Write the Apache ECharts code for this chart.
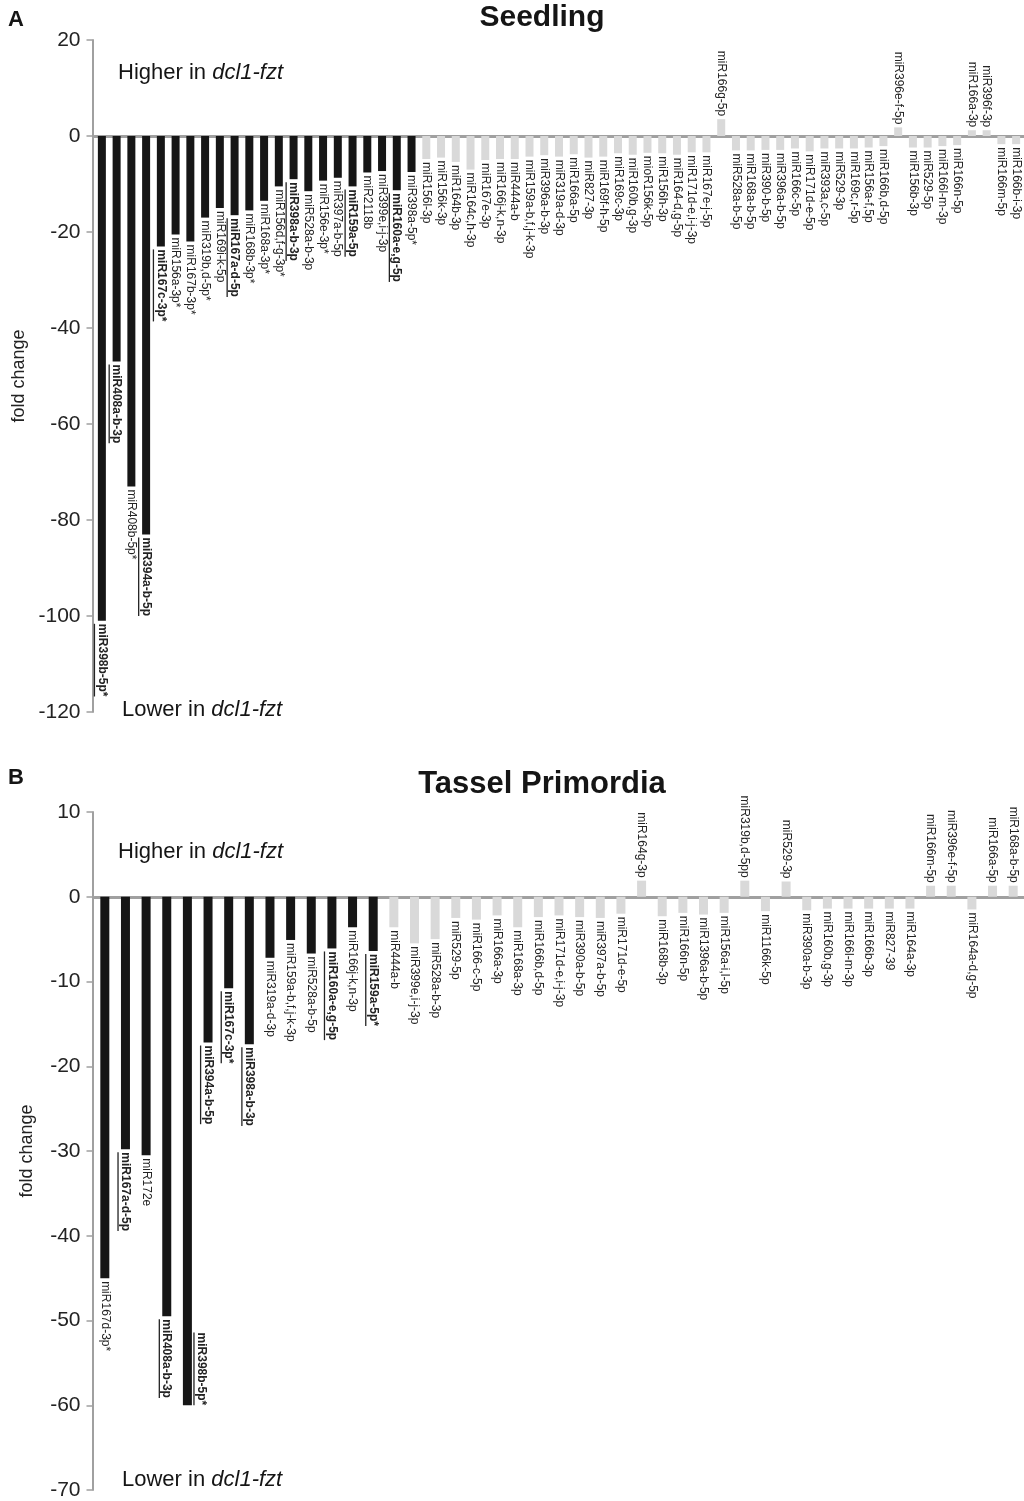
<!DOCTYPE html>
<html><head><meta charset="utf-8">
<script src="https://cdn.jsdelivr.net/npm/echarts@6/dist/echarts.min.js"></script>
<style>html,body{margin:0;padding:0;background:#fff}#c{width:1024px;height:1501px}</style>
</head><body><div id="c"></div>
<script>
// ---------- Panel A : Seedling ----------
const namesA = ['miR398b-5p*','miR408a-b-3p','miR408b-5p*','miR394a-b-5p','miR167c-3p*','miR156a-3p*','miR167b-3p*','miR319b,d-5p*','miR169i-k-5p','miR167a-d-5p','miR168b-3p*','miR168a-3p*','miR156d,f-g-3p*','miR398a-b-3p','miR528a-b-3p','miR156e-3p*','miR397a-b-5p','miR159a-5p','miR2118b','miR399e,i-j-3p','miR160a-e,g-5p','miR398a-5p*',
'miR156l-3p','miR156k-3p','miR164b-3p','miR164c,h-3p','miR167e-3p','miR166j-k,n-3p','miR444a-b','miR159a-b,f,j-k-3p','miR396a-b-3p','miR319a-d-3p','miR166a-5p','miR827-3p','miR169f-h-5p','miR169c-3p','miR160b,g-3p','mioR156k-5p','miR156h-3p','miR164-d,g-5p','miR171d-e,i-j-3p','miR167e-j-5p','miR166g-5p','miR528a-b-5p','miR168a-b-5p','miR390-b-5p','miR396a-b-5p','miR166c-5p','miR171d-e-5p','miR393a,c-5p','miR529-3p','miR169c,r-5p','miR156a-f,5p','miR166b,d-5p','miR396e-f-5p','miR156b-3p','miR529-5p','miR166l-m-3p','miR166n-5p','miR166a-3p','miR396f-3p','miR166m-5p','miR166b-i-3p'];
const valuesA = [-101,-47,-73,-83,-23,-20.5,-22,-17,-15,-16.5,-15.5,-13.5,-10.5,-9,-11.5,-9.3,-8.7,-10.5,-7.6,-7.3,-11.3,-7.5,
-4.8,-4.5,-5.4,-7.0,-5.0,-4.8,-4.8,-4.3,-4.0,-4.3,-3.8,-4.5,-4.3,-3.6,-3.9,-3.5,-3.6,-3.9,-3.4,-3.4,3.5,-3.0,-3.0,-2.9,-2.9,-2.6,-3.2,-2.6,-2.6,-2.6,-2.4,-2.1,1.8,-2.4,-2.4,-2.1,-1.9,1.2,1.2,-1.7,-1.7];
const significantCountA = 22;   // first bars drawn in black
const highlightA = ['miR398b-5p*','miR408a-b-3p','miR394a-b-5p','miR167c-3p*','miR167a-d-5p','miR398a-b-3p','miR159a-5p','miR160a-e,g-5p'];
const yMinA = -120, yMaxA = 20, yStepA = 20;

// ---------- Panel B : Tassel Primordia ----------
const namesB = ['miR167d-3p*','miR167a-d-5p','miR172e','miR408a-b-3p','miR398b-5p*','miR394a-b-5p','miR167c-3p*','miR398a-b-3p','miR319a-d-3p','miR159a-b,f,j-k-3p','miR528a-b-5p','miR160a-e,g-5p','miR166j-k,n-3p','miR159a-5p*',
'miR444a-b','miR399e,i-j-3p','miR528a-b-3p','miR529-5p','miR166-c-5p','miR166a-3p','miR168a-3p','miR166b,d-5p','miR171d-e,i-j-3p','miR390a-b-5p','miR397a-b-5p','miR171d-e-5p','miR164g-3p','miR168b-3p','miR166n-5p','miR1396a-b-5p','miR156a-i,l-5p','miR319b,d-5pp','miR1166k-5p','miR529-3p','miR390a-b-3p','miR160b,g-3p','miR166l-m-3p','miR166b-3p','miR827-39','miR164a-3p','miR166m-5p','miR396e-f-5p','miR164a-d,g-5p','miR166a-5p','miR168a-b-5p'];
const valuesB = [-45,-29.8,-30.5,-49.5,-60,-17.2,-10.8,-17.4,-7.2,-5.1,-6.7,-6.1,-3.6,-6.4,
-3.6,-5.5,-5.0,-2.5,-2.7,-2.2,-3.6,-2.4,-2.2,-2.4,-2.5,-2.0,1.9,-2.3,-1.9,-2.1,-1.9,1.9,-1.7,1.8,-1.6,-1.4,-1.4,-1.4,-1.4,-1.4,1.3,1.3,-1.5,1.3,1.3];
const significantCountB = 14;
const highlightB = ['miR167a-d-5p','miR408a-b-3p','miR398b-5p*','miR394a-b-5p','miR167c-3p*','miR398a-b-3p','miR160a-e,g-5p','miR159a-5p*'];
const sideLabelB = ['miR398b-5p*'];
const yMinB = -70, yMaxB = 10, yStepB = 10;

// ---------- styling ----------
const FF = '"Liberation Sans", Arial, Helvetica, sans-serif';
const FS = 12;
const BLACK = '#161616', GRAY = '#d9d9d9', TXT = '#232323', AXIS = '#a0a0a0';
const mctx = document.createElement('canvas').getContext('2d');
const fontOf = b => (b ? 'bold ' : '') + FS + 'px ' + FF;
const textW = (t, b) => { mctx.font = fontOf(b); return mctx.measureText(t).width; };

function barSeries(idx, values, nSig, bw) {
  return {
    type: 'bar', xAxisIndex: idx, yAxisIndex: idx, barWidth: bw, silent: true,
    data: values.map((v, i) => ({ value: v, itemStyle: { color: i < nSig ? BLACK : GRAY } }))
  };
}
function labelSeries(idx, names, values, highlight, side) {
  return {
    type: 'custom', xAxisIndex: idx, yAxisIndex: idx, z: 5, silent: true, clip: false,
    data: values.map((v, i) => [i, v]), encode: { x: 0, y: 1 },
    renderItem(params, api) {
      const i = api.value(0), v = api.value(1);
      const p = api.coord([i, v]);
      const name = names[i];
      const bold = highlight.includes(name);
      const w = textW(name, bold);
      const gap = 3;
      let x = p[0], y;
      if (side.includes(name)) { x = p[0] + 14; y = p[1] - w; }
      else if (v < 0) y = p[1] + gap;
      else y = p[1] - gap - w;
      const children = [{
        type: 'text',
        style: { text: name, x: 0, y: 0, font: fontOf(bold), fill: TXT,
                 align: 'left', textAlign: 'left', verticalAlign: 'middle', textVerticalAlign: 'middle' }
      }];
      if (bold) children.push({ type: 'line', shape: { x1: 0, y1: FS * 0.62, x2: w, y2: FS * 0.62 },
                                style: { stroke: TXT, lineWidth: 1.3 } });
      return { type: 'group', x: x, y: y, rotation: -Math.PI / 2, children: children };
    }
  };
}
function yAxis(idx, min, max, step) {
  return {
    type: 'value', gridIndex: idx, min: min, max: max, interval: step, offset: 2,
    name: 'fold change', nameLocation: 'middle', nameRotate: 90, nameGap: 56,
    nameTextStyle: { fontSize: 18, fontFamily: FF, color: TXT },
    axisLine: { show: true, lineStyle: { color: AXIS, width: 2 } },
    axisTick: { show: true, length: 6, lineStyle: { color: AXIS, width: 1.5 } },
    axisLabel: { fontSize: 21, fontFamily: FF, color: TXT, margin: 12 },
    splitLine: { show: false }
  };
}
function xAxis(idx, names) {
  return {
    type: 'category', gridIndex: idx, data: names,
    axisLine: { show: true, onZero: true, lineStyle: { color: AXIS, width: 3 } },
    axisTick: { show: false }, axisLabel: { show: false }
  };
}
function txt(x, y, text, font, align, rich) {
  const s = { text: text, x: 0, y: 0, font: font, fill: '#151515',
              align: align, textAlign: align, verticalAlign: 'middle', textVerticalAlign: 'middle' };
  if (rich) s.rich = rich;
  return { type: 'text', x: x, y: y, silent: true, style: s };
}
const itRich = { i: { fontStyle: 'italic', fontSize: 22, fontFamily: FF, fill: '#151515' } };

const chart = echarts.init(document.getElementById('c'), null, { renderer: 'canvas' });
chart.setOption({
  animation: false,
  backgroundColor: '#fff',
  grid: [
    { left: 94.5, top: 40, width: 929, height: 672 },
    { left: 94.5, top: 812, width: 929, height: 678 }
  ],
  xAxis: [xAxis(0, namesA), xAxis(1, namesB)],
  yAxis: [yAxis(0, yMinA, yMaxA, yStepA), yAxis(1, yMinB, yMaxB, yStepB)],
  series: [
    barSeries(0, valuesA, significantCountA, 8),
    labelSeries(0, namesA, valuesA, highlightA, []),
    barSeries(1, valuesB, significantCountB, 9),
    labelSeries(1, namesB, valuesB, highlightB, sideLabelB)
  ],
  graphic: [
    txt(8, 20, 'A', 'bold 22px ' + FF, 'left'),
    txt(542, 18, 'Seedling', 'bold 30px ' + FF, 'center'),
    txt(118, 73, 'Higher in {i|dcl1-fzt}', '22px ' + FF, 'left', itRich),
    txt(122, 710, 'Lower in {i|dcl1-fzt}', '22px ' + FF, 'left', itRich),
    txt(8, 778, 'B', 'bold 22px ' + FF, 'left'),
    txt(542, 784, 'Tassel Primordia', 'bold 31px ' + FF, 'center'),
    txt(118, 852, 'Higher in {i|dcl1-fzt}', '22px ' + FF, 'left', itRich),
    txt(122, 1480, 'Lower in {i|dcl1-fzt}', '22px ' + FF, 'left', itRich)
  ]
});
</script></body></html>
